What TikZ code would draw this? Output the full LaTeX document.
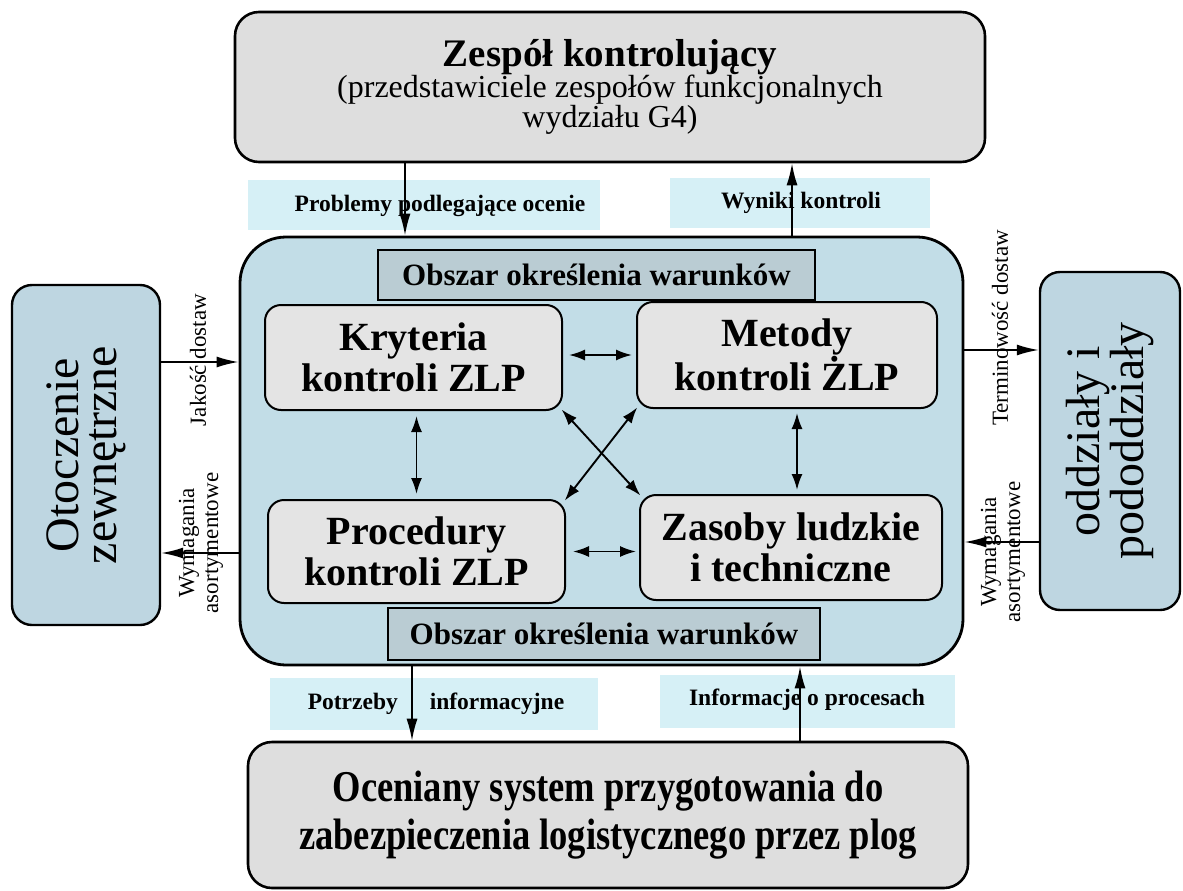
\documentclass[tikz,border=0pt]{standalone}
\usepackage{fontspec}
\setmainfont{Liberation Serif}
\newfontfamily\condfont[FakeStretch=0.83]{Liberation Serif}
\usetikzlibrary{arrows.meta,calc}
\definecolor{boxgray}{RGB}{222,222,222}
\definecolor{centralblue}{RGB}{194,221,231}
\definecolor{stripcyan}{RGB}{214,240,246}
\definecolor{sideblue}{RGB}{190,214,225}
\definecolor{innergray}{RGB}{228,228,228}
\definecolor{areablue}{RGB}{186,204,211}
\begin{document}
\begin{tikzpicture}[x=1pt,y=-1pt,
  bigbox/.style={draw=black,line width=2.6pt,fill=boxgray,rounded corners=24pt,inner sep=0pt,align=center},
  centralbox/.style={draw=black,line width=2.8pt,fill=centralblue,rounded corners=46pt,inner sep=0pt},
  areabox/.style={draw=black,line width=2.8pt,fill=areablue,inner sep=0pt,font=\fontsize{31}{33}\selectfont\bfseries},
  innerbox/.style={draw=black,line width=2pt,fill=innergray,rounded corners=16pt,inner sep=0pt,align=center,font=\fontsize{40}{41}\selectfont\bfseries},
  sidebox/.style={draw=black,line width=2.4pt,fill=sideblue,rounded corners=20pt,inner sep=0pt},
  sidetext/.style={rotate=90,align=center,font=\fontsize{48}{38}\selectfont},
  strip/.style={fill=stripcyan,draw=none,inner sep=0pt},
  striptext/.style={font=\fontsize{23.5}{25}\selectfont\bfseries},
  lbl/.style={rotate=90,align=center,font=\fontsize{23}{24}\selectfont},
  arr/.style={line width=1.8pt,-{Latex[length=22pt,width=11pt]}},
  dbl/.style={line width=1.9pt,{Latex[length=16pt,width=11pt]}-{Latex[length=16pt,width=11pt]}}
]
\useasboundingbox (0,0) rectangle (1183,891);
\fill[white] (0,0) rectangle (1183,891);

% label strips
\node[strip,minimum width=352pt,minimum height=50pt] (s1) at (424,205) {};
\node[strip,minimum width=260pt,minimum height=50pt] (s2) at (800,203) {};
\node[strip,minimum width=328pt,minimum height=52pt] (s3) at (434,704) {};
\node[strip,minimum width=295pt,minimum height=53pt] (s4) at (807,701) {};

% main boxes
\node[bigbox,minimum width=750pt,minimum height=150pt] (top) at (610,87)
  {{\fontsize{39}{36}\selectfont\bfseries Zespół kontrolujący}\\[-1pt]
   {\fontsize{32}{34}\selectfont (przedstawiciele zespołów funkcjonalnych}\\
   {\fontsize{32}{34}\selectfont wydziału G4)}};
\node[centralbox,minimum width=723pt,minimum height=428pt] (central) at (601.5,451) {};
\node[bigbox,minimum width=720pt,minimum height=146pt,font=\condfont\fontsize{44}{48}\selectfont\bfseries] (bottom) at (608,815)
  {Oceniany system przygotowania do\\zabezpieczenia logistycznego przez plog};

\node[areabox,minimum width=437pt,minimum height=50pt] (area1) at (596.5,275) {Obszar określenia warunków};
\node[areabox,minimum width=432pt,minimum height=52pt] (area2) at (604,634) {Obszar określenia warunków};

\node[innerbox,minimum width=297pt,minimum height=105pt] (kryt) at (413.5,357.5) {Kryteria\\kontroli ZLP};
\node[innerbox,minimum width=300pt,minimum height=106pt] (met) at (787,355) {Metody\\kontroli ŻLP};
\node[innerbox,minimum width=297pt,minimum height=103pt] (proc) at (416.5,551.5) {Procedury\\kontroli ZLP};
\node[innerbox,minimum width=302pt,minimum height=105pt] (zas) at (791,547.5) {Zasoby ludzkie\\i techniczne};

\node[sidebox,minimum width=148pt,minimum height=340pt] (left) at (86,455) {};
\node[sidetext] (lefttext) at (left.center) {Otoczenie\\zewnętrzne};
\node[sidebox,minimum width=140pt,minimum height=338pt] (right) at (1110,441) {};
\node[sidetext] (righttext) at (right.center) {oddziały i\\pododdziały};

% strip texts
\node[striptext] (t1) at (440,206) {Problemy podlegające ocenie};
\node[striptext] (t2) at (801,203) {Wyniki kontroli};
\node[striptext] (t3) at (436,704) {Potrzeby\hspace{32pt}informacyjne};
\node[striptext] (t4) at (807,700) {Informacje o procesach};

% side labels
\node[lbl] (l1) at (198,360) {Jakość dostaw};
\node[lbl] (l2) at (201,543) {Wymagania\\asortymentowe};
\node[lbl] (l3) at (1000,328) {Terminowość dostaw};
\node[lbl] (l4) at (1003,552) {Wymagania\\asortymentowe};

% vertical connector positions
\coordinate (xa) at (405,0);
\coordinate (xb) at (792,0);
\coordinate (xc) at (412,0);
\coordinate (xd) at (800,0);
\coordinate (xr) at (797,0);
\coordinate (ya) at (0,362);
\coordinate (yb) at (0,553);
\coordinate (yc) at (0,350);
\coordinate (yd) at (0,542);

\draw[arr] (top.south -| xa) -- (central.north -| xa);
\draw[arr] (central.north -| xb) -- (top.south -| xb);
\draw[arr] (central.south -| xc) -- (bottom.north -| xc);
\draw[arr] (bottom.north -| xd) -- (central.south -| xd);

\draw[arr] (left.east |- ya) -- (central.west |- ya);
\draw[arr] (central.west |- yb) -- (left.east |- yb);
\draw[arr] (central.east |- yc) -- (right.west |- yc);
\draw[arr] (right.west |- yd) -- (central.east |- yd);

% inner connectors
\draw[dbl,shorten <=6pt,shorten >=4pt] (kryt.east |- met.west) -- (met.west);
\draw[dbl,shorten <=7pt,shorten >=3pt] (proc.east) -- (proc.east -| zas.west);
\draw[dbl,shorten <=5pt,shorten >=5pt] (kryt.south -| proc.north) -- (proc.north);
\draw[dbl,shorten <=4pt,shorten >=4pt] (met.south -| xr) -- (zas.north -| xr);
\draw[dbl,shorten <=-2pt,shorten >=-2pt] (kryt.south east) -- (zas.north west);
\draw[dbl,shorten <=-2pt,shorten >=-2pt] (met.south west) -- (proc.north east);
\end{tikzpicture}
\end{document}
